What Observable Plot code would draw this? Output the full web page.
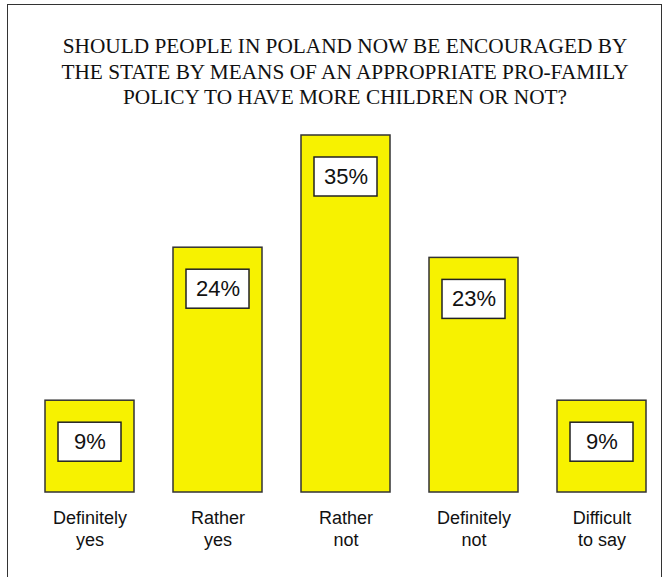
<!DOCTYPE html>
<html><head><meta charset="utf-8">
<script src="https://cdn.jsdelivr.net/npm/d3@7"></script>
<script src="https://cdn.jsdelivr.net/npm/@observablehq/plot@0.6"></script>
<style>
body{margin:0;background:#fff;}
#wrap{position:relative;width:664px;height:577px;overflow:hidden;background:#fff;}
#frame{position:absolute;left:7px;top:4px;width:655px;height:620px;border:1px solid #333;box-sizing:border-box;}
#title{position:absolute;left:15px;width:660px;top:34px;text-align:center;font-family:"Liberation Serif","Times New Roman",serif;font-size:21.3px;line-height:25.5px;color:#111;}
#chart{position:absolute;left:0;top:0;}
</style></head>
<body><div id="wrap"><div id="frame"></div><div id="title">SHOULD PEOPLE IN POLAND NOW BE ENCOURAGED BY<br>THE STATE BY MEANS OF AN APPROPRIATE PRO-FAMILY<br>POLICY TO HAVE MORE CHILDREN OR NOT?</div><div id="chart"></div></div>
<script>
const categories = ["Definitely\nyes", "Rather\nyes", "Rather\nnot", "Definitely\nnot", "Difficult\nto say"];
const values = [9, 24, 35, 23, 9];
const valueLabels = values.map(v => v + "%");
const data = categories.map((c, i) => ({category: c, value: values[i], label: valueLabels[i]}));

const plot = Plot.plot({
  width: 664, height: 577,
  marginTop: 135, marginBottom: 85, marginLeft: 0, marginRight: 0,
  x: {domain: categories, range: [26, 666], paddingInner: 0.303, paddingOuter: 0.15, axis: null},
  y: {domain: [0, 35], axis: null},
  style: {background: "transparent", fontFamily: "'Liberation Sans', Arial, sans-serif"},
  marks: [
    Plot.barY(data, {x: "category", y: "value", fill: "#f7f200", stroke: "#333", strokeWidth: 1.5}),
    Plot.barY(data, {x: "category", y1: "value", y2: "value", insetLeft: 13, insetRight: 13, insetTop: 22, insetBottom: -61, fill: "white", stroke: "#222", strokeWidth: 1.5}),
    Plot.text(data, {x: "category", y: "value", text: "label", dy: 41.5, fontSize: 22, fill: "#111"}),
    Plot.text(data, {x: "category", y: 0, text: "category", lineAnchor: "top", dy: 17, fontSize: 18, lineHeight: 1.17, fill: "#111"})
  ]
});
document.getElementById("chart").appendChild(plot);
</script>
</body></html>
